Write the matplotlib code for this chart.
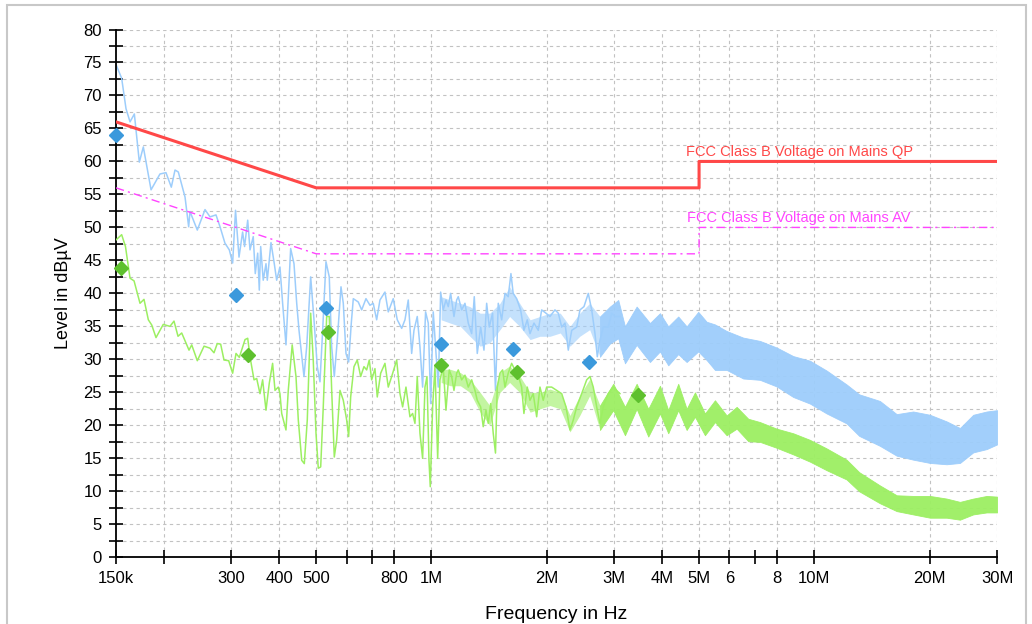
import matplotlib
matplotlib.use('Agg')
import matplotlib.pyplot as plt
from matplotlib.ticker import FixedLocator, MultipleLocator, NullLocator
from matplotlib.patches import Rectangle

plt.rcParams['font.family'] = ['Liberation Sans', 'DejaVu Sans']

# Peak scan (light blue), frequency in MHz, level in dBuV
peak_f = [0.150, 0.1552, 0.1593, 0.1632, 0.1675, 0.1726, 0.1768, 0.1852, 0.1954, 0.2026,
          0.2092, 0.2139, 0.2182, 0.2272, 0.2322, 0.2341, 0.2446, 0.2562, 0.2640, 0.2737,
          0.2804, 0.2889, 0.2965, 0.3025, 0.3078, 0.3143, 0.3212, 0.3250, 0.3312, 0.3358,
          0.3424, 0.3466, 0.3517, 0.3551, 0.3581, 0.3636, 0.3697, 0.3726, 0.3810, 0.3886,
          0.3942, 0.4021, 0.4086, 0.4169, 0.4288, 0.4375, 0.4447, 0.4509, 0.4646, 0.4722,
          0.4837, 0.4934, 0.5033, 0.5115, 0.5198, 0.5303, 0.5409, 0.5488, 0.5575, 0.5676,
          0.5804, 0.5885, 0.5981, 0.6078, 0.6175, 0.6250, 0.6439, 0.6573, 0.6745, 0.6909,
          0.7046, 0.7193, 0.7337, 0.7561, 0.7713, 0.7946, 0.8142, 0.8361, 0.8528, 0.8698,
          0.8878, 0.9002, 0.9182, 0.9332, 0.9483, 0.9653, 0.9810, 0.9953, 1.0108, 1.0275,
          1.0418, 1.0569, 1.0733, 1.0912, 1.1064, 1.1224, 1.1450, 1.1638, 1.1750, 1.1993,
          1.2233, 1.2478, 1.2737, 1.2937, 1.3172, 1.3444, 1.3714, 1.3938, 1.4158, 1.4444,
          1.4698, 1.4945, 1.5254, 1.5560, 1.5868, 1.6129, 1.6348, 1.6690, 1.7095, 1.7439,
          1.7793, 1.8084, 1.8525, 1.9011, 1.9404, 1.991, 2.0394, 2.1017, 2.1444, 2.1888,
          2.2326, 2.2772, 2.3244, 2.3950, 2.4430, 2.5026, 2.5682, 2.6214, 2.6738, 2.7110,
          2.7554, 2.8100, 2.8957, 2.9557, 3.0148, 3.1067]
peak_db = [74.7, 72.6, 68.0, 66.0, 67.2, 59.9, 62.2, 55.7, 58.1, 58.3,
           56.1, 58.7, 58.4, 54.6, 50.1, 52.4, 49.6, 52.7, 51.6, 51.9,
           50.1, 47.6, 46.6, 44.6, 52.6, 45.5, 49.3, 47.1, 51.1, 46.6,
           48.6, 43.0, 46.1, 40.5, 47.1, 42.0, 44.5, 42.0, 47.7, 44.5,
           42.0, 44.0, 38.5, 32.2, 46.8, 44.5, 38.5, 34.4, 27.4, 31.9,
           42.5, 36.0, 28.9, 26.6, 34.4, 44.8, 42.5, 31.9, 27.4, 32.9,
           41.0, 38.5, 30.9, 29.6, 35.5, 39.2, 38.7, 37.5, 39.2, 38.2,
           38.5, 36.0, 39.0, 40.2, 37.2, 39.2, 36.0, 34.7, 36.0, 39.0,
           30.9, 34.4, 36.5, 31.9, 25.8, 37.2, 35.5, 23.3, 37.2, 30.9,
           25.8, 40.2, 37.5, 39.0, 38.0, 40.0, 36.5, 39.0, 39.5, 37.5,
           38.5, 35.5, 33.9, 39.5, 30.9, 34.9, 31.4, 38.5, 34.9, 37.0,
           25.3, 38.5, 36.0, 40.0, 39.5, 43.0, 40.0, 39.2, 37.5, 34.4,
           36.0, 33.9, 35.5, 34.4, 37.5, 37.0, 36.5, 37.5, 37.0, 34.9,
           35.5, 31.4, 34.4, 34.9, 37.5, 38.0, 40.0, 37.5, 33.9, 30.4,
           32.9, 34.9, 34.9, 37.0, 36.5, 36.5]

# Peak scan above ~1 MHz: dense band, upper and lower edge
peak_band_f = [1.06, 1.12, 1.19, 1.26, 1.34, 1.42, 1.51, 1.60, 1.70, 1.81,
               1.92, 2.04, 2.17, 2.30, 2.44, 2.59,
               2.755, 2.925, 3.075, 3.202, 3.435, 3.721, 3.952, 4.154, 4.411, 4.640,
               4.975, 5.233, 5.501, 5.902, 6.520, 7.210, 7.972, 8.807, 9.740, 10.77,
               12.14, 13.10, 14.83, 16.41, 18.12, 20.05, 22.16, 24.01, 26.00, 28.19, 30.0]
peak_band_hi = [39.5, 39.0, 38.5, 38.0, 37.0, 37.0, 38.5, 41.0, 38.5, 36.0,
                36.5, 37.0, 37.0, 35.0, 37.0, 38.5,
                36.5, 38.0, 39.0, 35.0, 38.0, 35.5, 37.0, 35.0, 36.5, 35.0,
                37.2, 35.7, 35.3, 34.3, 33.3, 32.8, 31.8, 30.5, 29.8, 28.3,
                26.2, 24.7, 23.7, 21.7, 22.1, 21.6, 20.6, 19.6, 21.6, 22.1, 22.3]
peak_band_lo = [36.0, 35.5, 35.0, 33.5, 32.0, 32.5, 34.5, 36.5, 35.0, 33.0,
                33.5, 33.5, 34.0, 32.0, 33.5, 34.5,
                30.4, 32.4, 33.2, 29.4, 32.2, 29.6, 31.2, 29.1, 30.8, 29.6,
                31.2, 29.9, 28.4, 28.4, 27.1, 26.9, 25.9, 24.3, 23.3, 21.8,
                20.3, 18.4, 16.9, 15.4, 14.8, 14.3, 14.1, 14.3, 15.9, 16.4, 17.1]

# Average scan (light green)
avg_f = [0.150, 0.1552, 0.1588, 0.1632, 0.1672, 0.1733, 0.1775, 0.1822, 0.1860, 0.1908,
         0.1993, 0.2075, 0.2126, 0.2178, 0.2227, 0.2327, 0.2365, 0.2446, 0.2547, 0.2640,
         0.2704, 0.2758, 0.2815, 0.2872, 0.2954, 0.3025, 0.3087, 0.3149, 0.3259, 0.3312,
         0.3358, 0.3440, 0.3496, 0.3566, 0.3623, 0.3697, 0.3771, 0.3847, 0.3903, 0.3981,
         0.4021, 0.4063, 0.4169, 0.4227, 0.4328, 0.4428, 0.4490, 0.4583, 0.4655, 0.4739,
         0.4837, 0.4912, 0.4994, 0.5063, 0.5137, 0.5217, 0.5325, 0.5409, 0.5488, 0.5575,
         0.5656, 0.5769, 0.5885, 0.6006, 0.6078, 0.6152, 0.6276, 0.6401, 0.6533, 0.6664,
         0.6773, 0.6880, 0.6980, 0.7120, 0.7219, 0.7368, 0.7561, 0.7713, 0.7872, 0.8113,
         0.8275, 0.8409, 0.8579, 0.8787, 0.8929, 0.9056, 0.9182, 0.9332, 0.9483, 0.9618,
         0.9734, 0.9852, 0.9930, 1.0071, 1.0214, 1.0381, 1.0525, 1.0733, 1.0912, 1.1130,
         1.1293, 1.1450, 1.1638, 1.1750, 1.1993, 1.2233, 1.2478, 1.2737, 1.2991, 1.3172,
         1.3444, 1.3653, 1.388, 1.4073, 1.4277, 1.4499, 1.4698, 1.4855, 1.5098, 1.5341,
         1.5560, 1.5868, 1.6196, 1.6520, 1.6851, 1.7200, 1.7439, 1.7793, 1.8084, 1.8442,
         1.8829, 1.9206, 1.9586, 1.9994, 2.0605, 2.1239, 2.1888, 2.246, 2.3006, 2.3462,
         2.3950, 2.4682, 2.5436, 2.5946, 2.6460, 2.7013, 2.7554, 2.8100, 2.8957, 2.9842,
         3.1067]
avg_db = [48.1, 48.9, 47.1, 42.3, 41.9, 38.5, 39.1, 36.0, 35.2, 33.3,
          35.3, 35.0, 35.8, 33.5, 34.0, 31.4, 32.2, 29.8, 32.0, 31.7,
          31.0, 32.4, 32.3, 29.9, 29.8, 27.9, 30.9, 30.3, 33.0, 33.2,
          30.4, 26.9, 27.1, 24.8, 26.9, 22.3, 26.4, 29.4, 25.3, 25.8,
          24.8, 21.8, 19.3, 25.3, 32.2, 27.4, 20.8, 14.7, 14.2, 20.8,
          37.0, 29.9, 18.8, 13.5, 13.7, 22.8, 36.5, 36.5, 25.3, 15.2,
          17.8, 25.3, 23.8, 20.8, 18.3, 24.3, 28.9, 29.9, 27.4, 28.9,
          28.4, 29.9, 26.9, 28.6, 24.3, 27.9, 29.4, 25.8, 27.4, 29.9,
          24.8, 22.8, 25.8, 21.3, 21.8, 20.3, 27.4, 18.8, 15.0, 25.8,
          27.4, 14.7, 10.7, 22.8, 28.9, 15.0, 26.9, 28.9, 22.3, 28.4,
          27.4, 25.3, 27.9, 28.4, 26.9, 27.6, 25.8, 26.9, 25.3, 23.8,
          22.8, 19.8, 22.3, 20.3, 23.3, 18.8, 15.8, 25.8, 27.9, 28.4,
          25.8, 27.9, 29.4, 28.4, 27.6, 25.8, 21.8, 25.8, 23.8, 24.8,
          21.3, 25.8, 23.8, 25.8, 25.8, 25.3, 24.8, 22.8, 19.3, 20.8,
          22.8, 24.8, 26.9, 27.4, 25.8, 22.8, 20.3, 22.8, 24.8, 25.8,
          24.8]

# Average scan above ~1 MHz: dense band
avg_band_f = [1.06, 1.12, 1.19, 1.26, 1.34, 1.42, 1.51, 1.60, 1.70, 1.81,
              1.92, 2.04, 2.17, 2.30, 2.44, 2.59,
              2.755, 2.984, 3.202, 3.435, 3.684, 3.952, 4.154, 4.411, 4.640, 4.878,
              5.180, 5.501, 5.902, 6.268, 6.721, 7.210, 7.972, 8.807, 9.740, 10.77,
              12.14, 13.10, 14.83, 16.41, 18.12, 20.05, 22.16, 24.01, 26.00, 28.19, 30.0]
avg_band_hi = [28.5, 28.5, 28.0, 27.0, 25.0, 23.0, 28.0, 29.0, 27.5, 25.0,
               25.0, 25.5, 25.0, 21.5, 24.5, 27.0,
               23.0, 26.3, 22.8, 26.3, 22.5, 26.0, 22.3, 26.3, 22.5, 25.0,
               21.8, 23.8, 21.5, 22.8, 21.0, 20.5, 19.5, 18.8, 17.8, 16.5,
               14.8, 12.9, 10.9, 9.4, 9.3, 9.3, 8.9, 8.4, 8.9, 9.3, 9.2]
avg_band_lo = [26.5, 26.0, 26.0, 25.0, 22.0, 20.0, 25.0, 26.5, 25.0, 22.0,
               22.5, 23.0, 22.5, 19.0, 21.5, 24.5,
               19.3, 22.3, 18.5, 22.5, 18.3, 21.8, 18.8, 22.3, 19.3, 21.3,
               18.5, 20.5, 18.5, 19.5, 17.6, 17.5, 16.6, 15.6, 14.5, 13.2,
               11.8, 10.0, 8.2, 7.0, 6.5, 6.0, 6.0, 5.7, 6.5, 6.8, 6.8]

# Final measurement markers
qp_marker_f = [0.150, 0.309, 0.530, 1.06, 1.63, 2.58]
qp_marker_db = [64.0, 39.7, 37.8, 32.3, 31.6, 29.6]
av_marker_f = [0.1546, 0.332, 0.537, 1.06, 1.67, 3.46]
av_marker_db = [43.8, 30.7, 34.1, 29.2, 28.1, 24.6]

# FCC Class B limits
qp_limit_f = [0.15, 0.5, 5, 5, 30]
qp_limit_db = [66, 56, 56, 60, 60]
av_limit_f = [0.15, 0.5, 5, 5, 30]
av_limit_db = [56, 46, 46, 50, 50]

xtick_f = [0.15, 0.2, 0.3, 0.4, 0.5, 0.6, 0.7, 0.8, 1, 2, 3, 4, 5, 6, 7, 8, 10, 20, 30]
xtick_labels = ['150k', '', '300', '400', '500', '', '', '800', '1M', '2M', '3M', '4M', '5M',
                '6', '', '8', '10M', '20M', '30M']
xgrid_f = [0.2, 0.3, 0.4, 0.5, 0.6, 0.7, 0.8, 1, 2, 3, 4, 5, 6, 8, 10, 20, 30]

peak_color = '#9dcdfb'
avg_color = '#9cef62'
split = 17  # band points below ~2.8 MHz are sparser noise

fig = plt.figure(figsize=(10.32, 6.24), dpi=100)
fig.patches.append(Rectangle((7 / 1032, -0.05), 1019 / 1032, 1.05 - 5 / 624,
                             transform=fig.transFigure, fill=False,
                             edgecolor='#c8c8c8', linewidth=1.5))
ax = fig.add_axes([116 / 1032, 1 - 557.3 / 624, 881 / 1032, 527.8 / 624])

# grid
for f in xgrid_f:
    ax.axvline(f, color='#c2c2c2', lw=0.8, ls=(0, (3, 3)), zorder=0)
ax.yaxis.set_major_locator(MultipleLocator(5))
ax.yaxis.set_minor_locator(MultipleLocator(2.5))
ax.grid(axis='y', which='both', color='#c2c2c2', lw=0.8, ls=(0, (3, 3)), zorder=0)
ax.set_axisbelow(True)

# traces
ax.fill_between(peak_band_f[:split], peak_band_lo[:split], peak_band_hi[:split],
                color=peak_color, alpha=0.6, lw=0, zorder=2)
ax.fill_between(peak_band_f[split - 1:], peak_band_lo[split - 1:], peak_band_hi[split - 1:],
                color=peak_color, alpha=0.95, lw=0.6, zorder=2)
ax.plot(peak_f, peak_db, color=peak_color, lw=1.1, zorder=2)
ax.fill_between(avg_band_f[:split], avg_band_lo[:split], avg_band_hi[:split],
                color=avg_color, alpha=0.6, lw=0, zorder=3)
ax.fill_between(avg_band_f[split - 1:], avg_band_lo[split - 1:], avg_band_hi[split - 1:],
                color=avg_color, alpha=0.95, lw=0.6, zorder=3)
ax.plot(avg_f, avg_db, color=avg_color, lw=1.1, zorder=3)

# limits
ax.plot(qp_limit_f, qp_limit_db, color='#ff4848', lw=2.2, zorder=4)
ax.plot(av_limit_f, av_limit_db, color='#ff44ff', lw=1.0, ls=(0, (6, 3, 1.5, 3)), zorder=4)
ax.text(4.62, 60.4, 'FCC Class B Voltage on Mains QP', color='#ff4848', fontsize=10.5,
        ha='left', va='bottom', zorder=5)
ax.text(4.66, 50.4, 'FCC Class B Voltage on Mains AV', color='#ff44ff', fontsize=10.5,
        ha='left', va='bottom', zorder=5)

# markers
ax.plot(qp_marker_f, qp_marker_db, ls='none', marker='D', ms=7.5, color='#3b99dc',
        clip_on=False, zorder=6)
ax.plot(av_marker_f, av_marker_db, ls='none', marker='D', ms=7.5, color='#5ec02e',
        clip_on=False, zorder=6)

# axes
ax.set_xscale('log')
ax.set_xlim(0.15, 30)
ax.set_ylim(0, 80)
ax.xaxis.set_major_locator(FixedLocator(xtick_f))
ax.xaxis.set_minor_locator(NullLocator())
ax.set_xticklabels(xtick_labels)
for s in ['top', 'right']:
    ax.spines[s].set_visible(False)
for s in ['left', 'bottom']:
    ax.spines[s].set_linewidth(1.3)
ax.tick_params(axis='both', which='both', direction='inout', length=10, width=1.2,
               labelsize=12)
ax.tick_params(axis='y', pad=5)
ax.tick_params(axis='x', pad=5)
ax.set_xlabel('Frequency in Hz', fontsize=14, labelpad=14)
ax.set_ylabel('Level in dB\u00b5V', fontsize=13, labelpad=8.5)

fig.savefig('out.png', dpi=100)
